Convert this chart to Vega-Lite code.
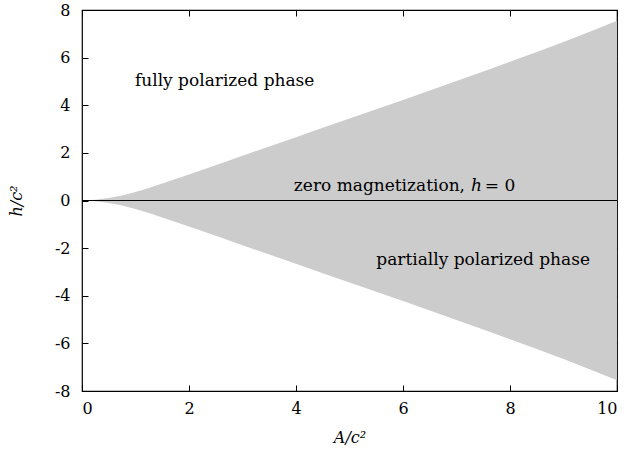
{
  "$schema": "https://vega.github.io/schema/vega-lite/v6.json",
  "autosize": "none",
  "width": 535,
  "height": 381,
  "padding": {"left": 82, "top": 10, "right": 12, "bottom": 64},
  "background": "white",
  "config": {
    "view": {"stroke": "#000000", "strokeWidth": 1.2},
    "font": "DejaVu Serif",
    "text": {"font": "DejaVu Serif"},
    "axis": {
      "grid": false,
      "zindex": 2,
      "domain": false,
      "ticks": true,
      "tickOpacity": 1,
      "tickColor": "#000000",
      "tickSize": 6,
      "tickWidth": 1,
      "labelFont": "DejaVu Serif",
      "labelFontSize": 16,
      "labelFontWeight": "normal",
      "labelColor": "#000000",
      "labelExpr": "replace(datum.label, '−', '-')",
      "titleFont": "DejaVu Serif",
      "titleFontSize": 16,
      "titleFontStyle": "italic",
      "titleFontWeight": "normal",
      "titleColor": "#000000"
    }
  },
  "data": {
    "values": [
      {"A": 0, "hi": 0, "lo": 0},
      {"A": 0.25, "hi": 0.03, "lo": -0.03},
      {"A": 0.5, "hi": 0.1, "lo": -0.1},
      {"A": 0.75, "hi": 0.21, "lo": -0.21},
      {"A": 1, "hi": 0.36, "lo": -0.36},
      {"A": 1.25, "hi": 0.53, "lo": -0.53},
      {"A": 1.5, "hi": 0.71, "lo": -0.71},
      {"A": 2, "hi": 1.09, "lo": -1.09},
      {"A": 2.5, "hi": 1.48, "lo": -1.48},
      {"A": 3, "hi": 1.88, "lo": -1.88},
      {"A": 3.5, "hi": 2.27, "lo": -2.27},
      {"A": 4, "hi": 2.66, "lo": -2.66},
      {"A": 4.5, "hi": 3.05, "lo": -3.05},
      {"A": 5, "hi": 3.44, "lo": -3.44},
      {"A": 5.5, "hi": 3.83, "lo": -3.83},
      {"A": 6, "hi": 4.22, "lo": -4.22},
      {"A": 6.5, "hi": 4.62, "lo": -4.62},
      {"A": 7, "hi": 5.02, "lo": -5.02},
      {"A": 7.5, "hi": 5.42, "lo": -5.42},
      {"A": 8, "hi": 5.83, "lo": -5.83},
      {"A": 8.5, "hi": 6.24, "lo": -6.24},
      {"A": 9, "hi": 6.66, "lo": -6.66},
      {"A": 9.5, "hi": 7.1, "lo": -7.1},
      {"A": 10, "hi": 7.55, "lo": -7.55}
    ]
  },
  "resolve": {"axis": {"x": "independent", "y": "independent"}},
  "layer": [
    {
      "mark": {"type": "area", "color": "#cccccc", "opacity": 1},
      "encoding": {
        "x": {"field": "A", "type": "quantitative",
              "scale": {"domain": [0, 10], "nice": false, "zero": false},
              "axis": {"orient": "bottom", "title": "A/c²", "values": [0, 2, 4, 6, 8, 10], "offset": -6, "labelPadding": 9, "titlePadding": 13}},
        "y": {"field": "hi", "type": "quantitative",
              "scale": {"domain": [-8, 8], "nice": false},
              "axis": {"orient": "left", "title": "h/c²", "values": [-8, -6, -4, -2, 0, 2, 4, 6, 8], "offset": -6, "labelPadding": 12, "titlePadding": 30}},
        "y2": {"field": "lo"}
      }
    },
    {
      "data": {"values": [{}]},
      "mark": {"type": "rule", "color": "#000000", "strokeWidth": 1.2},
      "encoding": {
        "y": {"datum": 0, "type": "quantitative", "axis": null}
      }
    },
    {
      "data": {"values": [{}]},
      "mark": {"type": "text", "align": "left", "baseline": "alphabetic", "fontSize": 17, "fontWeight": "normal", "fill": "#000000"},
      "encoding": {
        "x": {"datum": 0.99, "type": "quantitative",
              "axis": {"orient": "top", "title": null, "labels": false, "offset": -6, "values": [0, 2, 4, 6, 8, 10]}},
        "y": {"datum": 4.8, "type": "quantitative",
              "axis": {"orient": "right", "title": null, "labels": false, "offset": -6, "values": [-8, -6, -4, -2, 0, 2, 4, 6, 8]}},
        "text": {"value": "fully polarized phase"}
      }
    },
    {
      "data": {"values": [{}]},
      "mark": {"type": "text", "align": "left", "baseline": "alphabetic", "fontSize": 17, "fontWeight": "normal", "fill": "#000000"},
      "encoding": {
        "x": {"datum": 3.96, "type": "quantitative", "axis": null},
        "y": {"datum": 0.38, "type": "quantitative", "axis": null},
        "text": {"value": "zero magnetization,"}
      }
    },
    {
      "data": {"values": [{}]},
      "mark": {"type": "text", "align": "left", "baseline": "alphabetic", "fontSize": 17, "fontWeight": "normal", "fontStyle": "italic", "fill": "#000000"},
      "encoding": {
        "x": {"datum": 7.27, "type": "quantitative", "axis": null},
        "y": {"datum": 0.38, "type": "quantitative", "axis": null},
        "text": {"value": "h"}
      }
    },
    {
      "data": {"values": [{}]},
      "mark": {"type": "text", "align": "left", "baseline": "alphabetic", "fontSize": 17, "fontWeight": "normal", "fill": "#000000"},
      "encoding": {
        "x": {"datum": 7.53, "type": "quantitative", "axis": null},
        "y": {"datum": 0.38, "type": "quantitative", "axis": null},
        "text": {"value": "= 0"}
      }
    },
    {
      "data": {"values": [{}]},
      "mark": {"type": "text", "align": "left", "baseline": "alphabetic", "fontSize": 17, "fontWeight": "normal", "fill": "#000000"},
      "encoding": {
        "x": {"datum": 5.5, "type": "quantitative", "axis": null},
        "y": {"datum": -2.7, "type": "quantitative", "axis": null},
        "text": {"value": "partially polarized phase"}
      }
    }
  ]
}
